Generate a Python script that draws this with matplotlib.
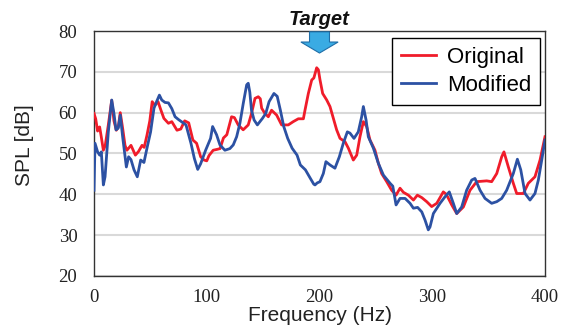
import numpy as np
import matplotlib.pyplot as plt
from matplotlib.patches import FancyArrow

freq_orig = [0, 1.5, 3.2, 5, 6.5, 8.3, 10, 12.7, 15.7, 17.7, 19.8, 21.5, 23.3, 25.5, 27.5, 29.2,
             32.8, 36.7, 39.5, 42.6, 44.5, 47, 49.5, 51.6, 54, 56.8, 59.5, 62, 66, 69, 73.6, 77,
             80.4, 84, 87.7, 91, 94.6, 97.6, 100, 102, 105.7, 109, 111.8, 114.8, 117.8, 122,
             124.5, 127.9, 132.3, 136.8, 139.7, 142.8, 145.7, 147.5, 148.7, 151.6, 154.6, 157.5,
             162, 166.4, 172.3, 176.7, 181.2, 185.7, 187.2, 190.1, 193.1, 195, 197.5, 199,
             200.4, 202.8, 206.4, 209.3, 212.3, 215.2, 218.2, 222.6, 225.6, 230, 233, 235.9,
             238.9, 241.8, 244.8, 249.2, 252.2, 255.1, 259.6, 264, 267.9, 271.4, 274.4, 278.8,
             283.3, 286.8, 290.7, 295.1, 299.5, 304, 309.8, 312.5, 317.3, 321.7, 327.6, 333.5,
             339.4, 348.3, 352.7, 357.2, 361.6, 363.6, 367.5, 371.9, 374.9, 380.8, 385.2,
             391.1, 395.6, 400]
spl_orig = [59.8, 58.5, 55.5, 56.5, 54, 50.8, 52, 57, 63, 58, 55.7, 56.5, 60, 56, 52, 50.8,
            52, 49.6, 50.5, 52, 51.5, 54.5, 58, 62.7, 61.8, 62.7, 60.5, 58.6, 57.4, 57.8, 55.7, 56,
            58, 57.5, 53.3, 52.5, 49.2, 48.4, 48.2, 49.5, 50.8, 51, 51.2, 53.8, 54.6, 59,
            58.8, 57, 55.8, 57, 59.8, 63.5, 63.9, 63.4, 61.1, 59.8, 59, 60.6,
            59.4, 57, 57, 57.8, 58.5, 58.5, 60.7, 64.7, 68, 68.5, 71, 70.5,
            68.1, 64.7, 63.1, 61.5, 58.6, 55.8, 53.7, 52.9, 51.3, 48.4, 49.6, 54.1,
            57.8, 56.6, 53.3, 50.8, 47.6, 45.1, 43.1, 41, 39.8, 41.5, 40.5, 39.8,
            38.6, 39.8, 39.2, 38.2, 37, 37.8, 40.6, 40, 37.4, 35.3, 36.9, 41,
            43.1, 43.3, 43.1, 45.1, 49.2, 50.4, 46.7, 42.7, 40.2, 40.2, 42.7,
            44.3, 48.4, 54.1]

freq_mod = [0, 0.9, 3.2, 5, 6.5, 8.3, 9.8, 12.7, 15.7, 17.7, 19.5, 21.5, 23.3, 25.4, 28.7, 30.7,
            32.8, 35.5, 38.4, 41.4, 44.3, 47.3, 50.2, 53.2, 55.5, 58, 60.1, 63, 66, 69, 71.9, 75,
            81.6, 86, 89, 92, 94.6, 99, 103.4, 105.2, 108.7, 111.7, 116.1, 120.5, 123.5, 126.5,
            129.4, 132.4, 135.4, 136.8, 138.2, 139.7, 142, 144.9, 149.4, 152.3, 155.3, 159.6,
            162.5, 165.3, 168.3, 171.8, 175.7, 180.1, 183, 187.5, 191.9, 194.9, 196, 198,
            200.4, 203.4, 205.7, 209.3, 213.7, 217.6, 221.1, 224.7, 227, 230.6, 234.4, 237.4,
            238.9, 241.3, 243.3, 247.8, 252.2, 256.7, 262.6, 265, 267.9, 271.4, 275.9, 280.3,
            283.3, 287, 290.7, 293.6, 296.5, 298, 301, 306.9, 311.3, 315.1, 318.7, 321.7,
            326.1, 330.5, 335, 337.9, 342.4, 346.8, 352.7, 357.2, 361.6, 366, 371.9, 375.5,
            378.5, 382.3, 386.7, 391.1, 394.1, 397.1, 400]
spl_mod = [41, 52.5, 50.4, 49.6, 50.4, 42.3, 44.3, 55.3, 63.1, 59.8, 55.8, 56.2, 59.4, 54.1, 46.7, 49.2,
           48.5, 46, 44.3, 48.4, 47.8, 51.7, 55.3, 61.1, 62.7, 64.3, 63.1, 62.5, 62.4, 61, 59, 58.3,
           57, 52.5, 48.8, 46.1, 47.5, 50.8, 53.7, 56.6, 54.6, 52.1, 50.8, 51.2, 52.1, 54.1,
           57.4, 62.3, 66.8, 67.2, 65, 60.6, 58.2, 57, 58.6, 59.8, 62.7, 64.7,
           64, 60.6, 56.6, 53.7, 51.3, 49.6, 47.2, 46, 43.9, 42.5, 42.3, 42.8,
           43.1, 45.1, 48, 47.2, 46.4, 49.2, 52.5, 55.3, 55, 53.7, 55.3, 59,
           61.5, 58.2, 54.1, 51.3, 47.6, 44.7, 42.7, 42, 37.4, 39, 39, 37.8,
           36.6, 36.8, 35.7, 33.7, 31.3, 32, 35.3, 37.8, 39.4, 40.6, 37.8, 35.3,
           36.9, 41, 43.5, 43.9, 41, 39, 37.8, 38.2, 39, 41, 45.1, 48.6,
           46, 40.2, 38.6, 40.2, 43.5, 48.4, 53.3]

x_ticks = [0, 100, 200, 300, 400]
y_ticks = [20, 30, 40, 50, 60, 70, 80]
target_freq = 200

fig = plt.figure(figsize=(5.66, 3.29), dpi=100)
ax = fig.add_axes([94/566, 53/329, 451/566, 245/329])

ax.plot(freq_orig, spl_orig, color="#f01c2a", lw=2, label="Original", zorder=3)
ax.plot(freq_mod, spl_mod, color="#2c51a3", lw=2, label="Modified", zorder=4)

ax.set_xlim(0, 400)
ax.set_ylim(20, 80)
ax.set_xticks(x_ticks)
ax.set_yticks(y_ticks)
ax.yaxis.grid(True, color="#d9d9d9", lw=1.5)
ax.set_axisbelow(True)
for sp in ax.spines.values():
    sp.set_color("#333333")
    sp.set_linewidth(1)

ax.tick_params(length=0, labelsize=13.5, labelcolor="#222222")
ax.tick_params(axis="y", pad=12)
ax.tick_params(axis="x", pad=9)
for lab in ax.get_xticklabels() + ax.get_yticklabels():
    lab.set_family("Liberation Serif")

ax.set_xlabel("Frequency (Hz)", fontsize=15, family="Liberation Sans", color="#222222", va="center")
ax.xaxis.set_label_coords(0.502, -0.16)
ax.set_ylabel("SPL [dB]", fontsize=15, family="Liberation Sans", color="#222222", ha="center", va="center")
ax.yaxis.set_label_coords(-0.153, 0.535)

leg = ax.legend(loc="upper right", bbox_to_anchor=(0.989, 0.971), borderaxespad=0,
                prop={"family": "Liberation Sans", "size": 16}, fancybox=False,
                framealpha=1, edgecolor="black", handlelength=1.55, labelspacing=0.3,
                handletextpad=0.5, borderpad=0.4)
leg.get_frame().set_linewidth(1)

# target marker
arrow = FancyArrow(target_freq, 79.8, 0, -5.2, width=17.7, head_width=33, head_length=2.7,
                   length_includes_head=True, fc="#3aabe3", ec="#1f6ea8", lw=0.8,
                   clip_on=False, zorder=6)
ax.add_patch(arrow)
ax.text(target_freq, 1.045, "Target", transform=ax.get_xaxis_transform(), ha="center", va="center",
        fontsize=14.5, family="Liberation Sans", weight="bold", style="italic", color="#111111")

fig.savefig("out.png", dpi=100)
